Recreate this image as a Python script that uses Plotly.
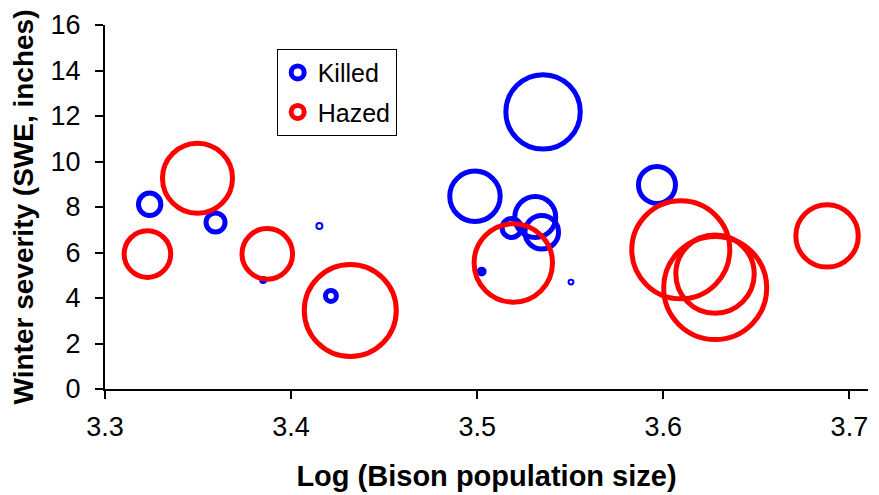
import plotly.graph_objects as go

# ---- data ----
killed_x = [3.324, 3.3594, 3.385, 3.4152, 3.4214, 3.4988, 3.5024, 3.5185, 3.5312, 3.5347, 3.5354, 3.5504, 3.5966]
killed_y = [8.12, 7.32, 4.79, 7.16, 4.09, 8.47, 5.16, 7.08, 7.56, 6.89, 12.18, 4.70, 8.97]
killed_bubble = [125, 90, 4, 9, 30, 635, 6, 90, 420, 282, 1384, 6, 342]

hazed_x = [3.3228, 3.3497, 3.3872, 3.4318, 3.5194, 3.6094, 3.6278, 3.6279, 3.688]
hazed_y = [5.93, 9.26, 5.94, 3.45, 5.54, 6.12, 5.05, 4.44, 6.73]
hazed_bubble = [543, 1225, 640, 2116, 1537, 2401, 1537, 2652, 973]

x_ticks = [3.3, 3.4, 3.5, 3.6, 3.7]
y_ticks = [0, 2, 4, 6, 8, 10, 12, 14, 16]

# ---- styles ----
BLUE = "#0000FF"
RED = "#FF0000"
killed_line_w = [5, 5, 4, 2, 5, 5, 5, 5, 5, 5, 5, 2, 5]
FONT = "Liberation Sans, Arial, sans-serif"

fig = go.Figure()

fig.add_trace(go.Scatter(
    x=killed_x, y=killed_y, mode="markers", name="Killed", showlegend=False,
    marker=dict(size=killed_bubble, sizemode="area", sizeref=0.5, opacity=1,
                color="rgba(0,0,0,0)", line=dict(color=BLUE, width=killed_line_w)),
    hoverinfo="x+y",
))
fig.add_trace(go.Scatter(
    x=hazed_x, y=hazed_y, mode="markers", name="Hazed", showlegend=False,
    marker=dict(size=hazed_bubble, sizemode="area", sizeref=0.5, opacity=1,
                color="rgba(0,0,0,0)", line=dict(color=RED, width=5)),
    hoverinfo="x+y",
))
# legend entries
fig.add_trace(go.Scatter(
    x=[None], y=[None], mode="markers", name="Killed", legendgroup="k",
    marker=dict(size=13, opacity=1, color="rgba(0,0,0,0)", line=dict(color=BLUE, width=5)),
))
fig.add_trace(go.Scatter(
    x=[None], y=[None], mode="markers", name="Hazed", legendgroup="h",
    marker=dict(size=13, opacity=1, color="rgba(0,0,0,0)", line=dict(color=RED, width=5)),
))

# The page adds an 8px body margin, so the figure is sized/positioned to compensate.
fig.update_layout(
    width=871, height=487,
    margin=dict(l=97, r=11, t=17, b=106),
    paper_bgcolor="white", plot_bgcolor="white",
    font=dict(family=FONT, size=25, color="black"),
    showlegend=True,
    legend=dict(
        x=0.225, y=0.935, xanchor="left", yanchor="top",
        bgcolor="white", bordercolor="black", borderwidth=1,
        font=dict(family=FONT, size=25, color="black"),
        itemsizing="trace", tracegroupgap=4,
    ),
    xaxis=dict(
        range=[3.3, 3.71], tickvals=x_ticks, ticktext=[f"{v:.1f}" for v in x_ticks],
        showgrid=False, zeroline=False, showline=True, linecolor="black", linewidth=2,
        ticks="outside", ticklen=8, tickwidth=1.5, tickcolor="black",
        tickfont=dict(family=FONT, size=27), automargin=False, ticklabelstandoff=5,
        title=dict(text="<b>Log (Bison population size)</b>", font=dict(family=FONT, size=29), standoff=24),
    ),
    yaxis=dict(
        range=[0, 16], tickvals=y_ticks,
        showgrid=False, zeroline=False, showline=True, linecolor="black", linewidth=2,
        ticks="outside", ticklen=8, tickwidth=1.5, tickcolor="black",
        tickfont=dict(family=FONT, size=27), automargin=False, ticklabelstandoff=9,
        title=dict(text="<b>Winter severity (SWE, inches)</b>", font=dict(family=FONT, size=28), standoff=10),
    ),
)

fig.write_html("out.html")
